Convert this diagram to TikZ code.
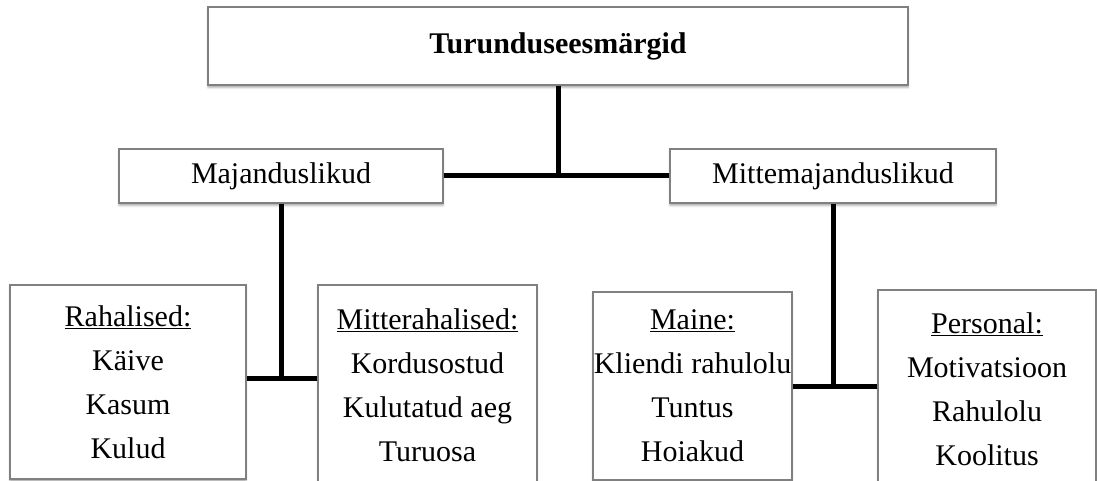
\documentclass[tikz,border=0pt]{standalone}
\usepackage{fontspec}
\setmainfont{Liberation Serif}
\usetikzlibrary{shadows.blur}

\begin{document}
\begin{tikzpicture}[x=1pt, y=-1pt, line width=5pt,
		main/.style = {draw=gray, line width=1.2pt, fill=white, align=center, inner sep=0pt,
			font=\fontsize{30}{44}\selectfont,
			blur shadow={shadow xshift=0pt, shadow yshift=-2.5pt, shadow blur radius=2pt, shadow opacity=35}}]
		\useasboundingbox (0,0) rectangle (1097,481);
		\clip (0,0) rectangle (1097,481);
		\node[main, minimum width=700pt, minimum height=78pt, font=\fontsize{30}{44}\selectfont\bfseries] (goal) at (558,46) {Turunduseesmärgid};
		\node[main, minimum width=324pt, minimum height=54pt] (maj) at (281,176) {Majanduslikud};
		\node[main, minimum width=326pt, minimum height=54pt] (mittemaj) at (833,176) {Mittemajanduslikud};
		\node[main, minimum width=236pt, minimum height=194pt] (rah) at (128,382) {\underline{Rahalised:}\\Käive\\Kasum\\Kulud};
		\node[main, minimum width=219pt, minimum height=200pt] (mitterah) at (427.5,385) {\underline{Mitterahalised:}\\Kordusostud\\Kulutatud aeg\\Turuosa};
		\node[main, minimum width=199pt, minimum height=188pt] (maine) at (692.5,386) {\underline{Maine:}\\Kliendi rahulolu\\Tuntus\\Hoiakud};
		\node[main, minimum width=218pt, minimum height=198pt] (pers) at (987,389) {\underline{Personal:}\\Motivatsioon\\Rahulolu\\Koolitus};
		\coordinate (j1) at (282,378);
		\coordinate (j2) at (832,386);

		\draw (goal) -- (goal |- maj);
		\draw (maj) -- (mittemaj);
		\draw (maj) -- (maj |- j1);
		\draw (rah.east |- j1) -- (mitterah.west |- j1);
		\draw (mittemaj) -- (mittemaj |- j2);
		\draw (maine.east |- j2) -- (pers.west |- j2);
	\end{tikzpicture}
\end{document}
